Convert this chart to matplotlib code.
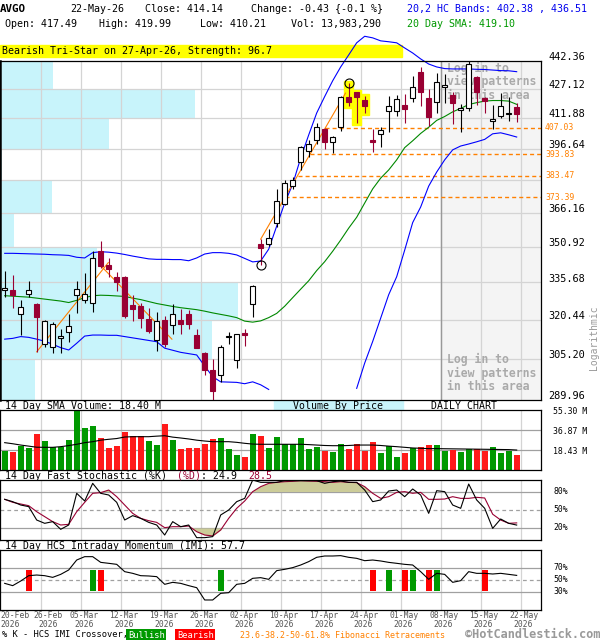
import numpy as np
import matplotlib
matplotlib.use("Agg")
import matplotlib.pyplot as plt
from matplotlib.patches import Rectangle
from matplotlib.ticker import NullLocator
from matplotlib.transforms import blended_transform_factory

# ---- AVGO daily chart, 20-Feb-26 .. 22-May-26 (65 sessions) ----
opens = [332.6, 332.5, 322.6, 330.7, 326.8, 310.8, 309.6, 313.2, 315.7, 330.3,
         328.3, 327.3, 349.1, 343.0, 338.0, 338.1, 326.4, 325.9, 320.8, 312.5,
         320.3, 318.2, 320.3, 322.6, 314.4, 307.5, 301.0, 299.3, 313.8, 304.6,
         315.3, 327.0, 352.1, 352.1, 361.3, 370.0, 378.5, 390.2, 395.5, 400.9,
         406.3, 399.8, 407.3, 422.9, 425.4, 421.5, 400.9, 403.8, 415.7, 415.6,
         418.9, 422.4, 436.3, 422.4, 420.3, 428.1, 424.2, 416.2, 417.1, 433.5,
         422.4, 410.5, 413.3, 413.9, 417.49]
highs = [340.6, 338.8, 328.3, 336.2, 327.2, 320.4, 319.6, 316.6, 322.6, 336.2,
         339.8, 349.1, 353.5, 345.9, 340.1, 338.5, 330.4, 327.4, 325.1, 323.4,
         321.9, 326.7, 324.7, 324.4, 316.9, 307.7, 305.0, 310.6, 315.7, 314.9,
         316.8, 334.6, 354.3, 359.0, 377.0, 381.6, 382.6, 397.9, 400.9, 409.6,
         406.9, 403.0, 423.6, 430.3, 425.7, 423.6, 406.3, 407.3, 423.6, 424.2,
         424.7, 433.9, 438.8, 427.0, 435.7, 435.2, 425.7, 419.4, 442.5, 434.0,
         423.2, 418.9, 425.0, 422.7, 419.99]
lows = [329.8, 325.3, 314.4, 329.5, 307.9, 309.9, 307.3, 307.5, 311.8, 323.0,
        327.3, 323.6, 341.7, 338.1, 332.1, 321.2, 320.0, 317.3, 315.3, 308.3,
        309.9, 314.8, 314.8, 316.9, 309.2, 299.1, 289.5, 296.5, 310.8, 301.9,
        310.3, 321.6, 343.0, 351.4, 359.6, 369.5, 377.0, 386.2, 392.6, 398.9,
        396.2, 394.6, 405.6, 418.5, 409.4, 414.8, 395.1, 397.2, 404.8, 413.1,
        409.6, 420.1, 418.0, 408.0, 414.5, 419.8, 409.0, 405.1, 415.7, 418.9,
        414.8, 406.3, 411.9, 410.6, 410.21]
closes = [333.2, 330.5, 325.7, 332.5, 321.6, 319.8, 318.9, 314.0, 317.9, 332.8,
          330.7, 345.9, 342.8, 341.3, 336.0, 321.9, 324.9, 321.2, 316.1, 319.9,
          310.8, 322.6, 318.6, 318.8, 309.5, 301.0, 293.3, 309.8, 314.0, 314.7,
          314.5, 334.2, 350.5, 355.0, 371.6, 379.8, 381.3, 397.2, 398.7, 407.3,
          400.1, 402.6, 423.2, 420.3, 423.2, 418.5, 400.1, 406.0, 418.3, 421.9,
          416.7, 428.1, 425.7, 412.4, 430.8, 429.3, 419.8, 417.4, 440.6, 425.7,
          421.1, 411.5, 418.0, 414.57, 414.14]

# 20,2 HC bands and 20 day SMA (lower band is off the chart for a few sessions)
upper_band = [348.1, 348.1, 348.0, 347.9, 347.8, 347.7, 347.5, 347.4, 347.2, 346.4,
              346.1, 348.4, 348.8, 348.6, 348.2, 347.6, 346.9, 346.3, 345.7, 345.5,
              345.5, 345.4, 345.4, 344.9, 346.1, 347.8, 348.4, 348.4, 348.1, 347.4,
              345.9, 344.4, 344.8, 349.9, 360.1, 370.6, 379.4, 392.0, 403.4, 414.6,
              423.2, 431.6, 439.1, 445.7, 452.5, 456.2, 455.3, 453.6, 453.1, 452.5,
              449.6, 446.8, 443.5, 440.7, 439.1, 438.2, 438.0, 438.0, 438.0, 437.8,
              437.7, 437.4, 437.1, 437.0, 436.51]
lower_band = [312.8, 313.1, 313.8, 313.5, 312.8, 312.0, 310.8, 309.5, 308.6, 311.2,
              314.0, 314.4, 314.4, 314.3, 314.3, 313.8, 313.3, 312.8, 312.3, 311.8,
              309.3, 308.5, 307.7, 307.2, 306.7, 302.5, 298.5, 296.6, 296.5, 296.4,
              295.9, 296.6, 295.5, 293.8, np.nan, np.nan, np.nan, np.nan, np.nan, np.nan,
              np.nan, np.nan, np.nan, np.nan, 294.2, 303.6, 311.9, 321.1, 330.6, 338.1,
              349.5, 361.7, 368.8, 378.5, 385.2, 391.1, 396.0, 397.9, 398.9, 400.0,
              401.2, 404.0, 404.5, 403.5, 402.38]
sma20 = [330.2, 330.0, 329.8, 329.6, 329.2, 328.8, 328.4, 328.0, 327.4, 328.3,
         329.4, 330.2, 330.4, 330.3, 330.1, 329.9, 329.2, 328.6, 327.8, 327.0,
         326.4, 325.8, 325.3, 324.9, 324.5, 323.9, 323.2, 322.6, 322.0, 321.3,
         319.9, 319.5, 320.0, 321.3, 323.0, 325.9, 329.4, 332.9, 336.4, 340.7,
         344.5, 349.0, 353.9, 359.2, 364.1, 370.6, 377.2, 382.3, 386.2, 391.1,
         397.1, 400.5, 404.2, 407.3, 410.8, 412.8, 415.2, 417.0, 419.0, 420.0,
         420.8, 421.1, 421.1, 420.8, 419.10]

# volume (millions), bar colours and the 14 day SMA of volume
volume = [17.8, 16.6, 22.4, 20.6, 33.2, 26.7, 21.2, 21.2, 27.7, 55.3,
          38.7, 40.6, 29.5, 20.6, 22.1, 35.0, 31.3, 31.3, 26.4, 23.0,
          42.4, 27.7, 19.4, 20.3, 20.3, 24.0, 28.9, 29.5, 19.7, 13.8,
          12.0, 33.2, 31.3, 20.6, 30.4, 23.7, 23.7, 29.5, 19.4, 21.2,
          17.5, 16.6, 24.0, 19.4, 23.7, 17.8, 25.8, 15.7, 22.1, 12.0,
          15.7, 20.3, 21.2, 23.0, 23.0, 17.8, 18.7, 16.6, 19.4, 19.4,
          17.8, 21.2, 15.7, 17.8, 13.98]
vol_dir = "GRGGRGGGGG" "GGRRRRRRGG" "RGRRRRRGGG" "RGRGGGGGGG" "RGGRRRRGGG" "RGRRGGRGGR" "RGGGR"
vol_sma = [25.2, 24.2, 23.0, 22.0, 21.0, 20.9, 20.9, 21.5, 22.5, 23.7,
           25.2, 26.1, 27.5, 28.3, 29.0, 30.4, 30.7, 30.7, 30.7, 31.2,
           31.6, 30.3, 29.5, 28.6, 27.5, 26.7, 26.1, 26.1, 26.1, 25.5,
           24.6, 23.9, 23.7, 23.7, 23.7, 23.7, 23.7, 23.7, 23.4, 23.0,
           22.6, 22.4, 22.4, 22.6, 23.0, 23.0, 23.0, 22.6, 22.0, 21.5,
           20.9, 20.3, 20.0, 19.7, 19.7, 19.6, 19.5, 19.4, 19.3, 19.2,
           19.1, 19.0, 18.9, 18.8, 18.40]

# volume by price, one value per price band (bottom to top), millions
price_ticks = [289.96, 305.20, 320.44, 335.68, 350.92, 366.16, 381.40, 396.64, 411.88, 427.12, 442.36]
vbp_volume = [56, 339, 381, 155, 22, 83, 3, 174, 312, 85]

# 14 day fast stochastic and HCS intraday momentum
stoch_k = [67.8, 63.9, 58.3, 55.6, 33.3, 27.8, 30.6, 17.8, 25.0, 77.8,
           65.0, 94.4, 77.8, 75.0, 62.8, 33.3, 40.6, 36.1, 29.4, 25.0,
           8.3, 30.6, 22.2, 25.0, 3.9, 3.9, 5.6, 41.7, 50.0, 63.9,
           69.4, 100.0, 96.1, 96.1, 96.1, 98.9, 98.9, 98.9, 98.9, 98.9,
           94.4, 97.2, 98.3, 96.1, 96.1, 83.3, 63.9, 66.7, 81.7, 83.3,
           72.2, 85.0, 75.0, 44.4, 82.2, 80.6, 58.3, 52.8, 93.3, 66.7,
           52.8, 19.4, 35.0, 27.8, 24.9]
stoch_d = [67.8, 62.8, 60.0, 57.2, 47.2, 38.9, 30.6, 25.0, 26.1, 47.2,
           62.8, 77.8, 78.9, 83.3, 72.2, 58.3, 44.4, 36.1, 32.2, 29.4,
           20.6, 22.2, 22.2, 23.3, 13.9, 8.3, 6.7, 16.7, 36.1, 52.8,
           65.0, 80.6, 88.9, 94.4, 96.1, 97.2, 97.8, 98.9, 98.3, 97.8,
           97.2, 96.1, 97.2, 96.1, 95.6, 88.9, 77.8, 69.4, 72.2, 79.4,
           80.6, 77.8, 79.4, 67.8, 67.8, 68.3, 72.2, 69.4, 69.4, 71.1,
           70.0, 43.0, 33.3, 27.8, 28.5]
imi = [44.4, 40.6, 48.3, 57.2, 58.3, 57.2, 54.4, 59.4, 66.7, 83.3,
       88.9, 88.9, 79.4, 77.8, 76.1, 63.9, 61.1, 57.2, 56.7, 55.6,
       42.8, 46.1, 44.4, 40.6, 37.2, 16.7, 16.7, 27.8, 28.9, 42.8,
       44.4, 52.8, 53.9, 51.1, 65.6, 67.8, 70.6, 75.0, 80.6, 87.8,
       90.0, 90.0, 90.6, 87.8, 86.1, 82.2, 83.3, 81.7, 79.4, 77.8,
       76.1, 75.0, 63.9, 51.1, 61.1, 59.4, 46.1, 48.9, 63.9, 61.1,
       61.1, 60.0, 61.1, 59.4, 57.7]
bull_cross = [11, 27, 48, 51, 54]
bear_cross = [3, 12, 46, 50, 53, 60]

# patterns, fibonacci levels and swing lines
pattern_idx = [43, 44, 45]
circle_hi = [43]
circle_lo = [32]
fib_levels = [407.03, 393.83, 383.47, 373.39]
swing_lines = [((4, 307.9), (12.95, 344.1)), ((12.0, 342.8), (20.9, 312.8)), ((32, 354.3), (42.6, 425.0))]

tick_idx = [0, 4, 9, 14, 19, 24, 29, 34, 39, 44, 49, 54, 59, 64]
tick_day = ['20-Feb', '26-Feb', '05-Mar', '12-Mar', '19-Mar', '26-Mar', '02-Apr',
            '10-Apr', '17-Apr', '24-Apr', '01-May', '08-May', '15-May', '22-May']

# ---- layout ----
W, H = 600, 640
plt.rcParams['font.family'] = 'DejaVu Sans Mono'
fig = plt.figure(figsize=(W / 100, H / 100), dpi=100)
X_LEFT, X_RIGHT = -0.5875, 67.04
CRIMSON = '#990033'
CYAN = '#c8f4fb'
LIGHT = '#d4d4d4'
MID = '#a0a0a0'
ORANGE = '#ff8000'
x = np.arange(len(closes))
week_grid = np.array(tick_idx[1:]) + 0.5


def fy(yp):
    return 1 - yp / H


def panel(x0, y0, x1, y1):
    a = fig.add_axes([x0 / W, fy(y1), (x1 - x0) / W, (y1 - y0) / H])
    a.set_xlim(X_LEFT, X_RIGHT)
    for s in a.spines.values():
        s.set_linewidth(0.9)
    for g in week_grid:
        a.axvline(g, color=LIGHT, lw=0.9, zorder=0.5)
    return a


def ftext(xp, yp, s, **kw):
    kw.setdefault('size', 7.2)
    kw.setdefault('va', 'center')
    return fig.text(xp / W, fy(yp), s, **kw)


# ---- main price panel ----
ax = panel(0, 61, 541, 400)
ax.set_yscale('log')
ax.set_ylim(price_ticks[0], price_ticks[-1])
ax.set_xticks([])
ax.set_yticks([])
ax.yaxis.set_minor_locator(NullLocator())
ax.spines['left'].set_linewidth(1.8)

for p in price_ticks[1:-1]:
    ax.axhline(p, color=LIGHT, lw=0.9, zorder=0.5)

# volume by price bars from the left edge
vbp_w = np.array(vbp_volume) / max(vbp_volume) * (238 / 8)
ax.barh(price_ticks[:-1], vbp_w, height=np.diff(price_ticks), left=X_LEFT,
        align='edge', color=CYAN, zorder=0.1)

# login area on the right
ax.axvspan(week_grid[10], X_RIGHT, color='#f4f4f4', zorder=0.2)
ax.axvline(week_grid[10], color='#999999', lw=1.0, zorder=0.6)
tr_login = blended_transform_factory(ax.transData, ax.transAxes)
for ty in (0.998, 0.138):
    ax.text(55.25, ty, 'Log in to\nview patterns\nin this area', transform=tr_login,
            color='#aaaaaa', size=8.3, weight='bold', va='top', ha='left', linespacing=1.05, zorder=0.8)

# pattern banner above the chart
ax.add_patch(Rectangle((0, 1.0115), 402 / 541, 12 / 339, transform=ax.transAxes,
                       color='#ffff00', clip_on=False, zorder=1))
ax.text(2 / 541, 1 + 10 / 339, 'Bearish Tri-Star on 27-Apr-26, Strength: 96.7', transform=ax.transAxes,
        size=7.2, va='center', ha='left', zorder=1.1, clip_on=False)

# yellow highlight behind the tri-star candles
for i in pattern_idx:
    lo, hi = lows[i] * 0.9975, highs[i] * 1.0025
    ax.add_patch(Rectangle((i - 0.6, lo), 1.2, hi - lo, color='#ffff00', zorder=1.5))

# fibonacci levels start where they meet the last swing line
(t0, p0), (t1, p1) = swing_lines[-1]
for f in fib_levels:
    xs = t0 + (np.log(f) - np.log(p0)) / (np.log(p1) - np.log(p0)) * (t1 - t0)
    ax.plot([xs, X_RIGHT], [f, f], color=ORANGE, lw=1.0, ls=(0, (2.9, 2.2)), zorder=1.8)

# bands and moving average
clip = Rectangle((0, 0), 1, 1.09, transform=ax.transAxes)
ax.plot(x, sma20, color='#008800', lw=0.8, zorder=2)
ln_u, = ax.plot(x, upper_band, color='#0000ff', lw=0.8, zorder=2, clip_on=True)
ln_u.set_clip_path(clip)
ax.plot(x, lower_band, color='#0000ff', lw=0.8, zorder=2)

for (a0, b0), (a1, b1) in swing_lines:
    ax.plot([a0, a1], [b0, b1], color=ORANGE, lw=0.8, zorder=2.2)

# candles
o, h, l, c = map(np.array, (opens, highs, lows, closes))
up = c >= o
body_lo = np.minimum(o, c)
body_h = np.abs(c - o)
ax.vlines(x[up], l[up], h[up], color='black', lw=0.8, zorder=3)
ax.vlines(x[~up], l[~up], h[~up], color=CRIMSON, lw=0.8, zorder=3)
ax.bar(x[up], body_h[up], bottom=body_lo[up], width=0.68, facecolor='white',
       edgecolor='black', linewidth=0.8, zorder=4)
ax.bar(x[~up], body_h[~up], bottom=body_lo[~up], width=0.68, facecolor=CRIMSON,
       edgecolor=CRIMSON, linewidth=0.8, zorder=4)

ax.plot(circle_hi, [highs[i] for i in circle_hi], 'o', mfc='none', mec='black', ms=6.5, mew=0.8, zorder=5, clip_on=False)
ax.plot(circle_lo, [lows[i] for i in circle_lo], 'o', mfc='none', mec='black', ms=6.5, mew=0.8, zorder=5)

# price labels on the right
tr_price = blended_transform_factory(fig.transFigure, ax.transData)
for p in price_ticks:
    if p == 381.40:
        continue
    fig.text(585 / W, p * 1.0012, f'{p:.2f}', transform=tr_price, size=7.4, ha='right', va='baseline')
for f in fib_levels:
    fig.text(545 / W, f, f'{f:.2f}', transform=tr_price, size=5.9, ha='left', va='center', color=ORANGE)
ftext(594, 338, 'Logarithmic', rotation=90, size=7, color='#999999', ha='center')

# ---- volume panel ----
axv = panel(0, 410, 541, 470)
axv.set_ylim(0, 55.3)
axv.set_xticks([])
axv.set_yticks([])
for v in (18.43, 36.87):
    axv.axhline(v, color=MID, lw=0.9, zorder=0.6)
axv.bar(x, volume, width=0.75, color=['#009900' if d == 'G' else '#ff1a1a' for d in vol_dir], zorder=2)
axv.plot(x, vol_sma, color='black', lw=0.8, zorder=3)
for v, lab in ((55.3, '55.30 M'), (36.87, '36.87 M'), (18.43, '18.43 M')):
    ftext(553, 470 - v / 55.3 * 60 + 1.5, lab, size=5.9)

# ---- stochastic panel ----
axs = panel(0, 480, 541, 540)
axs.set_ylim(0, 100)
axs.set_xticks([])
axs.set_yticks([])
axs.axhline(80, color=MID, lw=0.9, zorder=0.6)
axs.axhline(20, color=MID, lw=0.9, zorder=0.6)
axs.axhline(50, color=MID, lw=0.9, ls=(0, (3, 2.5)), zorder=0.6)
sd = np.array(stoch_d)
axs.fill_between(x, sd, 80, where=sd > 80, interpolate=True, color='#cccc99', lw=0, zorder=1)
axs.fill_between(x, sd, 20, where=sd < 20, interpolate=True, color='#cccc99', lw=0, zorder=1)
axs.plot(x, stoch_k, color='black', lw=0.8, zorder=3)
axs.plot(x, stoch_d, color=CRIMSON, lw=0.8, zorder=2)
for v in (80, 50, 20):
    ftext(553, 540 - v * 0.6, f'{v}%', size=5.9)

# ---- intraday momentum panel ----
axm = panel(0, 550, 541, 610)
axm.set_ylim(0, 100)
axm.set_xticks([])
axm.set_yticks([])
axm.axhline(70, color=MID, lw=0.9, zorder=0.6)
axm.axhline(30, color=MID, lw=0.9, zorder=0.6)
axm.axhline(50, color=MID, lw=0.9, ls=(0, (3, 2.5)), zorder=0.6)
axm.bar(bull_cross, 35, bottom=32.5, width=0.75, color='#009900', zorder=2)
axm.bar(bear_cross, 35, bottom=32.5, width=0.75, color='#ff0000', zorder=2)
axm.plot(x, imi, color='black', lw=0.8, zorder=3)
for v in (70, 50, 30):
    ftext(553, 610 - v * 0.6, f'{v}%', size=5.9)

# date labels under the last panel
tr_date = blended_transform_factory(axm.transData, fig.transFigure)
for k, (i, d) in enumerate(zip(tick_idx, tick_day)):
    if k == 0:
        xp, ha = X_LEFT, 'left'
    elif k == 1:
        xp, ha = i + 1.4, 'center'
    else:
        xp, ha = i + 0.875, 'center'
    fig.text(xp, fy(616), d, transform=tr_date, size=5.8, color='#555555', ha=ha, va='center')
    fig.text(xp, fy(624.5), '2026', transform=tr_date, size=5.8, color='#555555', ha=ha, va='center')

# ---- header ----
ftext(0, 9, 'AVGO', weight='bold', size=7.8)
ftext(70, 9, '22-May-26')
ftext(145, 9, 'Close: 414.14')
ftext(251, 9, 'Change: -0.43 {-0.1 %}')
ftext(407, 9, '20,2 HC Bands: 402.38 , 436.51', color='#0000ee')
ftext(4.6, 24, 'Open: 417.49')
ftext(99, 24, 'High: 419.99')
ftext(200.5, 24, 'Low: 410.21')
ftext(291, 24, 'Vol: 13,983,290')
ftext(407, 24, '20 Day SMA: 419.10', color='#009900')

# panel titles
ftext(4.6, 406, '14 Day SMA Volume: 18.40 M', size=7.1)
fig.add_artist(Rectangle((274 / W, fy(411)), 129 / W, 11 / H, transform=fig.transFigure, color=CYAN, zorder=0))
ftext(338, 406, 'Volume By Price', size=7.1, ha='center')
ftext(431, 406, 'DAILY CHART', size=7.1)
ftext(4.6, 476, '14 Day Fast Stochastic (%K)', size=7.1)
ftext(177, 476, '(%D)', size=7.1, color=CRIMSON)
ftext(200.6, 476, ': 24.9', size=7.1)
ftext(248, 476, '28.5', size=7.1, color=CRIMSON)
ftext(4.6, 546, '14 Day HCS Intraday Momentum (IMI): 57.7', size=7.1)

# footer legend
ftext(2, 635, '% K - HCS IMI Crossover,', size=6.3)
ftext(128, 635, 'Bullish', size=6.3, color='white',
      bbox=dict(facecolor='#009900', edgecolor='none', pad=1.2))
ftext(177, 635, 'Bearish', size=6.3, color='white',
      bbox=dict(facecolor='#ff0000', edgecolor='none', pad=1.2))
ftext(240, 635, '23.6-38.2-50-61.8% Fibonacci Retracements', size=6.0, color=ORANGE)
ftext(465, 635, '\u00a9HotCandlestick.com', size=8.6, color='#999999', weight='bold')

fig.savefig('out.png', dpi=100)
